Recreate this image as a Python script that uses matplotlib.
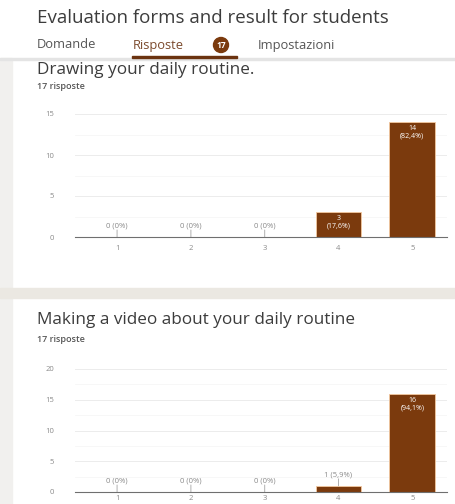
import numpy as np
import matplotlib.pyplot as plt
from matplotlib.patches import Rectangle, Circle

W, H = 455, 504

# data
categories = ["1", "2", "3", "4", "5"]
drawing_counts = [0, 0, 0, 3, 14]
drawing_labels = ["0 (0%)", "0 (0%)", "0 (0%)", "3\n(17,6%)", "14\n(82,4%)"]
video_counts = [0, 0, 0, 1, 16]
video_labels = ["0 (0%)", "0 (0%)", "0 (0%)", "1 (5,9%)", "16\n(94,1%)"]
drawing_yticks = [0, 5, 10, 15]
video_yticks = [0, 5, 10, 15, 20]

plt.rcParams["font.family"] = ["Open Sans", "DejaVu Sans"]

BROWN = "#7b3a0d"
TEXT = "#3c3c3c"
GREY = "#8a8a8a"

fig = plt.figure(figsize=(W / 100, H / 100), dpi=100)
fig.patch.set_facecolor("white")


def px(x, y):
    # pixel coords from top-left -> figure fraction
    return x / W, 1 - y / H


def ftext(x, y, s, **kw):
    fx, fy = px(x, y)
    fig.text(fx, fy, s, **kw)


# page background pieces
bg = fig.add_axes([0, 0, 1, 1], zorder=-5)
bg.set_xlim(0, W)
bg.set_ylim(H, 0)
bg.axis("off")
bg.add_patch(Rectangle((0, 58), 12, H - 58, color="#f1f0ee"))
bg.add_patch(Rectangle((0, 288), W, 10, color="#ebe8e2"))
bg.add_patch(Rectangle((0, 57.5), W, 2, color="#e4e4e4"))
bg.add_patch(Rectangle((132, 55.5), 105, 2.2, color="#6b3310"))
bg.add_patch(Circle((221, 45), 7.5, color=BROWN))

# header
ftext(37, 18, "Evaluation forms and result for students", fontsize=13.5,
      color=TEXT, va="center")
ftext(37, 45, "Domande", fontsize=9.3, color="#555555", va="center")
ftext(133, 45, "Risposte", fontsize=9.3, color="#7b4a2d", va="center")
ftext(221, 45.5, "17", fontsize=6, color="white", va="center", ha="center",
      fontweight="bold")
ftext(258, 45, "Impostazioni", fontsize=9.3, color="#555555", va="center")


def draw_chart(title, ty, sub_y, top, bottom, counts, labels, yticks, xpad):
    ftext(37, ty, title, fontsize=12.3, color=TEXT, va="center")
    ftext(37, sub_y, "17 risposte", fontsize=6.5, color="#555555",
          va="center", fontweight="semibold")

    l, b = px(75, bottom)
    r, t = px(447, top)
    ax = fig.add_axes([l, b, r - l, t - b])
    x = np.arange(1, len(categories) + 1)
    ymax = yticks[-1]
    ax.bar(x, counts, width=0.62, color=BROWN, edgecolor="#f4c9a0",
           linewidth=0.6, zorder=3)
    ax.set_xlim(0.43, 5.47)
    ax.set_ylim(0, ymax)
    ax.set_xticks(x)
    ax.set_xticklabels(categories)
    ax.set_yticks(yticks)
    ax.set_yticks(np.arange(0, ymax + 0.1, 2.5), minor=True)
    ax.tick_params(axis="both", which="both", length=0, labelsize=5.5,
                   colors=GREY)
    ax.tick_params(axis="x", pad=xpad)
    ax.tick_params(axis="y", pad=15)
    ax.grid(axis="y", which="major", color="#ececec", linewidth=0.7)
    ax.grid(axis="y", which="minor", color="#f6f6f6", linewidth=0.6)
    for s in ["top", "right", "left"]:
        ax.spines[s].set_visible(False)
    ax.spines["bottom"].set_color("#6f6f6f")
    ax.spines["bottom"].set_linewidth(0.8)
    ax.spines["bottom"].set_zorder(4)

    unit_px = (bottom - top) / ymax
    for xi, c, lab in zip(x, counts, labels):
        if c * unit_px > 20:
            ax.annotate(lab, (xi, c), xytext=(0, -3), textcoords="offset pixels",
                        ha="center", va="top", fontsize=5, color="white",
                        linespacing=1.1, zorder=5)
        else:
            ax.annotate(lab, (xi, c), xytext=(0, 11), textcoords="offset pixels",
                        ha="center", va="center", fontsize=5.5, color=GREY,
                        annotation_clip=False, zorder=5)
            ax.annotate("", (xi, c), xytext=(0, 7), textcoords="offset pixels",
                        arrowprops=dict(arrowstyle="-", color="#b0b0b0",
                                        lw=0.7, shrinkA=0, shrinkB=0))
    return ax


draw_chart("Drawing your daily routine.", 69.5, 86, 114, 237,
           drawing_counts, drawing_labels, drawing_yticks, 6)
draw_chart("Making a video about your daily routine", 320, 339, 369, 492,
           video_counts, video_labels, video_yticks, 2)

fig.savefig("out.png", dpi=100)
